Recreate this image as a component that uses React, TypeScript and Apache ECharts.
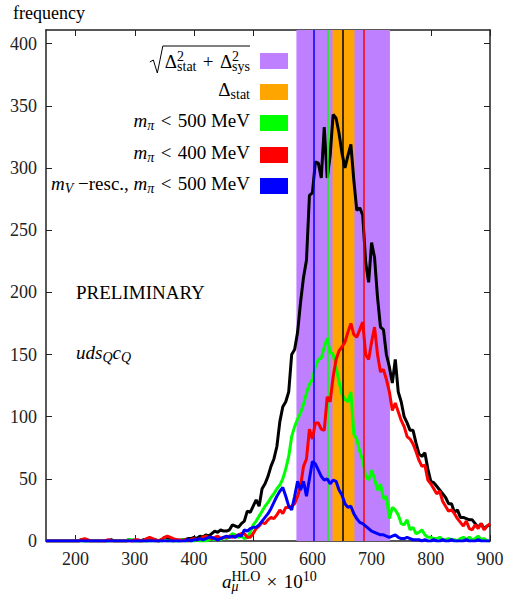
import React, { useEffect, useRef } from "react";
import * as echarts from "echarts";

// histogram bins: first bin centre and bin width (a_mu^HLO x 10^10)
const BIN_START = 150;
const BIN_WIDTH = 5;

// all ensembles (black)
const ALL_ENSEMBLES = [
  0, 0, 0, 0, 0, 0, 0, 0, 0, 0,
  0, 0, 1, 0, 0, 0, 0, 0, 0, 0,
  0, 0, 1, 0, 0, 0, 0, 0, 1, 0,
  0, 0, 0, 1, 0, 2, 1, 0, 0, 1,
  1, 2, 1, 0, 1, 0, 1, 1, 2, 2,
  3, 2, 4, 3, 5, 4, 6, 8, 7, 9,
  8, 8, 9, 13, 12, 11, 14, 16, 24, 23,
  28, 33, 28, 42, 46, 52, 60, 66, 76, 96,
  108, 112, 120, 150, 154, 168, 192, 212, 226, 278,
  280, 305, 304, 292, 333, 292, 310, 343, 340, 328,
  312, 300, 310, 319, 290, 266, 268, 262, 224, 208,
  240, 228, 196, 172, 170, 150, 140, 127, 146, 120,
  112, 100, 95, 89, 89, 79, 70, 68, 71, 58,
  48, 47, 44, 41, 38, 35, 30, 30, 23, 25,
  19, 19, 18, 17, 17, 14, 11, 14, 10, 12,
  13,
];

// m_pi < 500 MeV (green)
const MPI_500 = [
  0, 0, 0, 0, 0, 0, 0, 0, 0, 0,
  0, 0, 0, 0, 0, 0, 0, 0, 0, 0,
  0, 0, 0, 0, 0, 0, 0, 0, 1, 1,
  0, 0, 0, 0, 0, 0, 0, 1, 0, 0,
  1, 0, 0, 0, 0, 0, 1, 0, 0, 0,
  0, 1, 0, 0, 0, 1, 2, 1, 2, 1,
  3, 2, 4, 6, 5, 3, 4, 2, 3, 7,
  13, 16, 20, 24, 28, 31, 35, 38, 42, 45,
  50, 58, 68, 84, 92, 98, 103, 110, 119, 126,
  130, 140, 146, 147, 156, 163, 152, 150, 140, 128,
  118, 114, 112, 120, 86, 82, 72, 65, 52, 49,
  57, 50, 41, 46, 34, 36, 18, 27, 25, 21,
  14, 13, 17, 9, 11, 6, 7, 9, 5, 3,
  3, 2, 2, 3, 1, 1, 2, 1, 1, 0,
  2, 3, 1, 3, 1, 2, 4, 1, 2, 0,
  0,
];

// m_pi < 400 MeV (red)
const MPI_400 = [
  0, 0, 0, 0, 0, 0, 0, 0, 0, 0,
  0, 0, 1, 2, 1, 0, 0, 0, 0, 0,
  0, 1, 0, 0, 0, 0, 0, 0, 0, 0,
  1, 1, 0, 0, 2, 3, 2, 1, 0, 1,
  3, 4, 3, 2, 1, 1, 0, 1, 0, 1,
  2, 1, 2, 3, 4, 3, 2, 3, 4, 2,
  3, 3, 4, 3, 4, 5, 6, 6, 3, 3,
  6, 10, 12, 15, 14, 17, 19, 18, 21, 25,
  22, 27, 27, 28, 30, 36, 44, 60, 66, 90,
  82, 95, 95, 90, 89, 116, 112, 132, 146, 153,
  156, 160, 168, 175, 166, 164, 170, 176, 150, 146,
  160, 172, 150, 136, 138, 130, 120, 105, 111, 104,
  97, 92, 84, 82, 78, 72, 65, 60, 61, 49,
  46, 42, 38, 40, 32, 28, 24, 25, 22, 18,
  15, 12, 16, 10, 9, 13, 10, 14, 9, 12,
  14,
];

// m_V rescaled, m_pi < 500 MeV (blue)
const MV_RESCALED = [
  0, 0, 0, 0, 0, 0, 0, 0, 0, 0,
  0, 0, 0, 0, 0, 0, 0, 0, 0, 0,
  0, 0, 0, 0, 0, 0, 0, 0, 0, 0,
  0, 0, 0, 0, 0, 0, 0, 0, 0, 0,
  0, 0, 0, 0, 0, 0, 0, 0, 1, 0,
  1, 1, 2, 1, 2, 3, 3, 2, 1, 2,
  3, 4, 3, 4, 3, 5, 4, 9, 8, 10,
  11, 11, 13, 16, 19, 22, 26, 31, 36, 40,
  43, 36, 28, 25, 36, 48, 41, 48, 36, 50,
  64, 62, 57, 52, 49, 50, 46, 49, 48, 41,
  37, 30, 27, 28, 22, 18, 15, 14, 12, 10,
  8, 7, 6, 5, 5, 4, 3, 4, 5, 3,
  2, 2, 3, 2, 1, 1, 1, 0, 1, 0,
  0, 1, 0, 0, 1, 0, 0, 1, 0, 0,
  0, 0, 1, 0, 0, 0, 1, 0, 0, 0,
  0,
];

// final result and error bands
const CENTRAL_VALUE = 652;
const STAT_BAND = [634, 671];
const TOTAL_BAND = [573, 731];
// medians of the sub-distributions
const MEDIAN_LINES = [
  { value: 603, color: "#0000ff" },
  { value: 626, color: "#00ff00" },
  { value: 687, color: "#ff0000" },
];

const X_TICKS = [200, 300, 400, 500, 600, 700, 800, 900];
const Y_TICKS = [0, 50, 100, 150, 200, 250, 300, 350, 400];
const X_MIN = 150;
const X_MAX = 900;
const Y_MIN = 0;
const Y_MAX = 411;

const SERIF = "Liberation Serif, DejaVu Serif, serif";
const SP = "\u2004"; // slightly wider space around relations / operators

function makeRich(size: number, small: number) {
  const n = `${size}px ${SERIF}`;
  const it = `italic ${size}px ${SERIF}`;
  const sn = `${small}px ${SERIF}`;
  const si = `italic ${small}px ${SERIF}`;
  return {
    n: { font: n, lineHeight: 24, fill: "#000" },
    i: { font: it, lineHeight: 24, fill: "#000" },
    sub: { font: si, lineHeight: 10, verticalAlign: "bottom", fill: "#000" },
    sub0: { font: si, lineHeight: 10, verticalAlign: "bottom", width: 0, fill: "#000" },
    subr: { font: sn, lineHeight: 10, verticalAlign: "bottom", fill: "#000" },
    sup: { font: sn, lineHeight: 6, verticalAlign: "top", fill: "#000" },
    sup0: { font: sn, lineHeight: 6, verticalAlign: "top", width: 0, fill: "#000" },
  } as any;
}

const LEG_SIZE = 19;
const LEG_SMALL = 14;
const RICH_LEG = makeRich(LEG_SIZE, LEG_SMALL);
const RICH_TXT = makeRich(19, 14);

const LEGEND_ROWS = [
  { text: `{n|Δ}{sup0|2}{subr|stat}{n|${SP}+${SP}Δ}{sup0|2}{subr|sys}`, color: "#bf80ff", cy: 61 },
  { text: "{n|Δ}{subr|stat}", color: "#ffa500", cy: 92 },
  { text: `{i|m}{sub|π}{n|${SP}<${SP}500 MeV}`, color: "#00ff00", cy: 123 },
  { text: `{i|m}{sub|π}{n|${SP}<${SP}400 MeV}`, color: "#ff0000", cy: 155 },
  { text: `{i|m}{sub|V}{n| −resc., }{i|m}{sub|π}{n|${SP}<${SP}500 MeV}`, color: "#0000ff", cy: 186 },
];

function pairs(values: number[]) {
  return values.map((v, i) => [BIN_START + i * BIN_WIDTH, v]);
}

const AXIS_LINE = { show: true, onZero: false, lineStyle: { color: "#222", width: 1.5 } };

export default function App() {
  const ref = useRef<HTMLDivElement>(null);

  useEffect(() => {
    if (!ref.current) return;
    const chart = echarts.init(ref.current, undefined, { renderer: "svg" });

    // measure the first legend text so that the radical sign hugs it
    const ctx = document.createElement("canvas").getContext("2d");
    const tw = (font: string, s: string) => {
      if (!ctx) return s.length * 8;
      ctx.font = font;
      return ctx.measureText(s).width;
    };
    const fn = `${LEG_SIZE}px ${SERIF}`;
    const fs = `${LEG_SMALL}px ${SERIF}`;
    const row1W = tw(fn, "Δ") + tw(fs, "stat") + tw(fn, `${SP}+${SP}Δ`) + tw(fs, "sys");
    const x0 = 250 - row1W - 3;

    const tickStyle = { show: true, inside: true, length: 6, lineStyle: { color: "#222", width: 1 } };
    const labelStyle = { fontSize: 18, fontFamily: SERIF, color: "#222", margin: 9 };

    const graphics: any[] = [];
    LEGEND_ROWS.forEach((row) => {
      graphics.push({
        type: "text",
        right: 507 - 250,
        top: row.cy - 12,
        silent: true,
        style: { text: row.text, rich: RICH_LEG, font: fn, fill: "#000" },
      });
      graphics.push({
        type: "rect",
        shape: { x: 260, y: row.cy - 8, width: 28, height: 16 },
        style: { fill: row.color },
        silent: true,
      });
    });
    // square-root sign over the first legend entry
    graphics.push({
      type: "polyline",
      shape: { points: [[x0 - 12, 62], [x0 - 8.5, 60], [x0 - 4.5, 73], [x0 + 1, 46], [250, 46]] },
      style: { stroke: "#000", lineWidth: 1, fill: null },
      silent: true,
    });
    graphics.push({
      type: "text",
      left: 13,
      top: 4,
      style: { text: "frequency", font: `18px ${SERIF}`, fill: "#000" },
      silent: true,
    });
    graphics.push({
      type: "text",
      left: 76,
      top: 283,
      style: { text: "PRELIMINARY", font: `19px ${SERIF}`, fill: "#000" },
      silent: true,
    });
    graphics.push({
      type: "text",
      left: 76,
      top: 343,
      style: { text: "{i|uds}{sub|Q}{i|c}{sub|Q}", rich: RICH_TXT, font: `italic 19px ${SERIF}`, fill: "#000" },
      silent: true,
    });
    graphics.push({
      type: "text",
      left: 222,
      top: 569,
      style: {
        text: `{i|a}{sub0|μ}{sup|HLO}{n|${SP}×${SP}10}{sup|10}`,
        rich: RICH_TXT,
        font: `19px ${SERIF}`,
        fill: "#000",
      },
      silent: true,
    });

    const option: any = {
      animation: false,
      grid: { left: 46, right: 17, top: 30, bottom: 55, containLabel: false },
      xAxis: [
        {
          type: "value",
          min: X_MIN,
          max: X_MAX,
          position: "bottom",
          axisLine: AXIS_LINE,
          splitLine: { show: false },
          axisTick: { ...tickStyle, customValues: X_TICKS },
          axisLabel: { ...labelStyle, customValues: X_TICKS },
        },
        {
          type: "value",
          min: X_MIN,
          max: X_MAX,
          position: "top",
          axisLine: AXIS_LINE,
          splitLine: { show: false },
          axisTick: { ...tickStyle, customValues: X_TICKS },
          axisLabel: { show: false },
        },
      ],
      yAxis: [
        {
          type: "value",
          min: Y_MIN,
          max: Y_MAX,
          position: "left",
          axisLine: AXIS_LINE,
          splitLine: { show: false },
          axisTick: { ...tickStyle, customValues: Y_TICKS },
          axisLabel: { ...labelStyle, customValues: Y_TICKS },
        },
        {
          type: "value",
          min: Y_MIN,
          max: Y_MAX,
          position: "right",
          axisLine: AXIS_LINE,
          splitLine: { show: false },
          axisTick: { ...tickStyle, customValues: Y_TICKS },
          axisLabel: { show: false },
        },
      ],
      series: [
        {
          type: "line",
          name: "bands",
          data: [],
          silent: true,
          z: 1,
          markArea: {
            silent: true,
            data: [
              [
                { xAxis: TOTAL_BAND[0], itemStyle: { color: "#bf80ff", opacity: 1 } },
                { xAxis: TOTAL_BAND[1] },
              ],
              [
                { xAxis: STAT_BAND[0], itemStyle: { color: "#ffa500", opacity: 1 } },
                { xAxis: STAT_BAND[1] },
              ],
            ],
          },
          markLine: {
            silent: true,
            symbol: ["none", "none"],
            label: { show: false },
            lineStyle: { type: "solid", width: 1.5 },
            data: [
              ...MEDIAN_LINES.map((m) => ({ xAxis: m.value, lineStyle: { color: m.color, type: "solid", width: 1.5 } })),
              { xAxis: CENTRAL_VALUE, lineStyle: { color: "#000", type: "solid", width: 1.5 } },
            ],
          },
        },
        {
          type: "line",
          name: "all",
          data: pairs(ALL_ENSEMBLES),
          symbol: "none",
          silent: true,
          z: 3,
          lineStyle: { color: "#000", width: 3 },
          itemStyle: { color: "#000" },
        },
        {
          type: "line",
          name: "mpi500",
          data: pairs(MPI_500),
          symbol: "none",
          silent: true,
          z: 4,
          lineStyle: { color: "#00ff00", width: 3 },
          itemStyle: { color: "#00ff00" },
        },
        {
          type: "line",
          name: "mpi400",
          data: pairs(MPI_400),
          symbol: "none",
          silent: true,
          z: 5,
          lineStyle: { color: "#ff0000", width: 3 },
          itemStyle: { color: "#ff0000" },
        },
        {
          type: "line",
          name: "mV",
          data: pairs(MV_RESCALED),
          symbol: "none",
          silent: true,
          z: 6,
          lineStyle: { color: "#0000ff", width: 3 },
          itemStyle: { color: "#0000ff" },
        },
      ],
      graphic: graphics,
    };

    chart.setOption(option);
    return () => chart.dispose();
  }, []);

  return (
    <div
      ref={ref}
      style={{ position: "fixed", left: 0, top: 0, width: 507, height: 596, background: "#fff" }}
    />
  );
}
